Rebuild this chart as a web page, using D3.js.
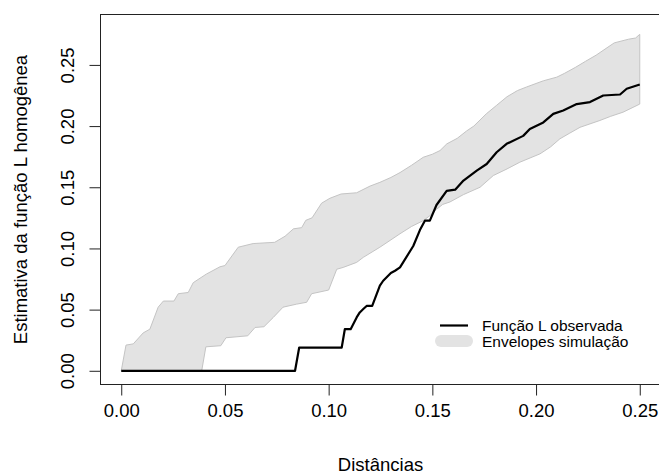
<!DOCTYPE html>
<html>
<head>
<meta charset="utf-8">
<script src="https://cdn.jsdelivr.net/npm/d3@7"></script>
<style>
  html, body { margin: 0; padding: 0; background: #fff; }
  svg { display: block; font-family: Arial, "Liberation Sans", sans-serif; }
</style>
</head>
<body>
<svg id="chart" width="659" height="475"></svg>
<script>
// Distances (r) and L-function estimates
const obsR = [0.0000, 0.0838, 0.0858, 0.1063, 0.1078, 0.1106, 0.1135, 0.1150, 0.1167, 0.1183, 0.1210,
  0.1247, 0.1263, 0.1300, 0.1320, 0.1344, 0.1408, 0.1440, 0.1464, 0.1488, 0.1520, 0.1569, 0.1610,
  0.1650, 0.1714, 0.1762, 0.1810, 0.1858, 0.1938, 0.1970, 0.2035, 0.2083, 0.2131, 0.2196, 0.2260,
  0.2324, 0.2405, 0.2437, 0.2500];
const obsL = [0.000, 0.000, 0.019, 0.019, 0.034, 0.034, 0.0436, 0.0477, 0.0505, 0.053, 0.053,
  0.0696, 0.0736, 0.080, 0.0818, 0.0845, 0.102, 0.115, 0.1227, 0.1227, 0.1355, 0.147, 0.148,
  0.1555, 0.1636, 0.169, 0.1786, 0.1855, 0.192, 0.1977, 0.203, 0.210, 0.2128, 0.218, 0.2196,
  0.225, 0.2258, 0.2305, 0.234];

// Upper simulation envelope
const hiR = [0.0000, 0.0023, 0.0058, 0.0106, 0.0138, 0.0178, 0.0203, 0.0254, 0.0275, 0.0323, 0.0347,
  0.0410, 0.0476, 0.0500, 0.0564, 0.0636, 0.0740, 0.0790, 0.0830, 0.0870, 0.0890, 0.0920, 0.0966,
  0.1006, 0.1060, 0.1135, 0.1200, 0.1247, 0.1300, 0.1344, 0.1400, 0.1456, 0.1500, 0.1537, 0.1570,
  0.1620, 0.1665, 0.1700, 0.1760, 0.1810, 0.1860, 0.1910, 0.1955, 0.2035, 0.2100, 0.2136, 0.2190,
  0.2239, 0.2290, 0.2342, 0.2377, 0.2446, 0.2480, 0.2500];
const hiL = [0.000, 0.021, 0.022, 0.031, 0.034, 0.052, 0.057, 0.057, 0.063, 0.064, 0.072,
  0.079, 0.085, 0.086, 0.101, 0.104, 0.105, 0.110, 0.116, 0.117, 0.123, 0.125, 0.137,
  0.141, 0.1445, 0.1455, 0.151, 0.154, 0.158, 0.162, 0.168, 0.1745, 0.177, 0.180, 0.1855,
  0.190, 0.196, 0.200, 0.210, 0.217, 0.224, 0.229, 0.232, 0.237, 0.240, 0.243, 0.248,
  0.253, 0.258, 0.264, 0.268, 0.271, 0.272, 0.275];

// Lower simulation envelope
const loR = [0.0000, 0.0388, 0.0408, 0.0480, 0.0505, 0.0610, 0.0645, 0.0688, 0.0733, 0.0780, 0.0846,
  0.0894, 0.0918, 0.1000, 0.1039, 0.1070, 0.1135, 0.1167, 0.1247, 0.1300, 0.1344, 0.1400, 0.1456,
  0.1490, 0.1520, 0.1550, 0.1585, 0.1650, 0.1730, 0.1794, 0.1860, 0.1922, 0.2019, 0.2070, 0.2115,
  0.2160, 0.2212, 0.2308, 0.2360, 0.2420, 0.2500];
const loL = [0.000, 0.000, 0.0196, 0.0205, 0.027, 0.0286, 0.0354, 0.036, 0.0436, 0.052, 0.0545,
  0.056, 0.063, 0.066, 0.083, 0.0845, 0.0886, 0.0927, 0.101, 0.107, 0.112, 0.118, 0.1227,
  0.127, 0.132, 0.136, 0.138, 0.144, 0.150, 0.1596, 0.165, 0.1705, 0.1773, 0.183, 0.1896,
  0.194, 0.199, 0.2046, 0.208, 0.2114, 0.218];

const xTicks = [0, 0.05, 0.10, 0.15, 0.20, 0.25];
const yTicks = [0, 0.05, 0.10, 0.15, 0.20, 0.25];

const legendLabels = ["Função L observada", "Envelopes simulação"];
const xTitle = "Distâncias";
const yTitle = "Estimativa da função L homogênea";

const svg = d3.select("#chart");

// Plot region (R-style 4% padding around the data range)
const x = d3.scaleLinear().domain([-0.01, 0.26]).range([100.5, 660.5]);
const y = d3.scaleLinear().domain([-0.0112, 0.2912]).range([384.5, 14.5]);

const pts = (rs, ls) => rs.map((r, i) => [r, ls[i]]);
const line = d3.line().x(d => x(d[0])).y(d => y(d[1]));

// Envelope band: upper edge forward, lower edge back
const band = pts(hiR, hiL).concat(pts(loR, loL).reverse());
svg.append("path")
  .attr("d", line(band) + "Z")
  .attr("fill", "#e3e3e3")
  .attr("stroke", "#c4c4c4")
  .attr("stroke-width", 1)
  .attr("stroke-linejoin", "round");

// Observed L function
svg.append("path")
  .attr("d", line(pts(obsR, obsL)))
  .attr("fill", "none")
  .attr("stroke", "#000")
  .attr("stroke-width", 2.2)
  .attr("stroke-linejoin", "round");

// Frame
svg.append("rect")
  .attr("x", x.range()[0]).attr("y", y.range()[1])
  .attr("width", x.range()[1] - x.range()[0])
  .attr("height", y.range()[0] - y.range()[1])
  .attr("fill", "none").attr("stroke", "#222").attr("stroke-width", 1);

const fmt = d3.format(".2f");
const axisFont = "18.5px";

// x axis
const gx = svg.append("g")
  .attr("transform", `translate(0,${y.range()[0]})`)
  .call(d3.axisBottom(x).tickValues(xTicks).tickFormat(fmt).tickSize(11).tickPadding(8));
gx.select(".domain").remove();
gx.selectAll(".tick line").attr("stroke", "#222");
gx.selectAll(".tick text").attr("fill", "#000").style("font-size", axisFont)
  .style("font-family", "Arial, 'Liberation Sans', sans-serif");

// y axis with vertical labels
const gy = svg.append("g")
  .attr("transform", `translate(${x.range()[0]},0)`)
  .call(d3.axisLeft(y).tickValues(yTicks).tickFormat(fmt).tickSize(11));
gy.select(".domain").remove();
gy.selectAll(".tick line").attr("stroke", "#222");
gy.selectAll(".tick text")
  .attr("x", null).attr("dy", "0.35em")
  .attr("transform", "translate(-32.5,0) rotate(-90)")
  .attr("text-anchor", "middle")
  .attr("fill", "#000").style("font-size", axisFont)
  .style("font-family", "Arial, 'Liberation Sans', sans-serif");

// Axis titles
svg.append("text")
  .attr("x", (x.range()[0] + x.range()[1]) / 2).attr("y", 465)
  .attr("dy", "0.35em").attr("text-anchor", "middle")
  .style("font-size", axisFont).attr("fill", "#000").text(xTitle);

svg.append("text")
  .attr("transform", `translate(21,${(y.range()[0] + y.range()[1]) / 2}) rotate(-90)`)
  .attr("dy", "0.35em").attr("text-anchor", "middle")
  .style("font-size", axisFont).attr("fill", "#000").text(yTitle);

// Legend
const lg = svg.append("g");
lg.append("line")
  .attr("x1", 440).attr("x2", 468).attr("y1", 325.5).attr("y2", 325.5)
  .attr("stroke", "#000").attr("stroke-width", 2.2);
lg.append("line")
  .attr("x1", 441).attr("x2", 467).attr("y1", 341).attr("y2", 341)
  .attr("stroke", "#e3e3e3").attr("stroke-width", 12).attr("stroke-linecap", "round");
lg.selectAll("text.lab").data(legendLabels).join("text")
  .attr("class", "lab")
  .attr("x", 482).attr("y", (d, i) => 326 + i * 16)
  .attr("dy", "0.35em")
  .style("font-size", "15.5px").attr("fill", "#000")
  .text(d => d);
</script>
</body>
</html>
